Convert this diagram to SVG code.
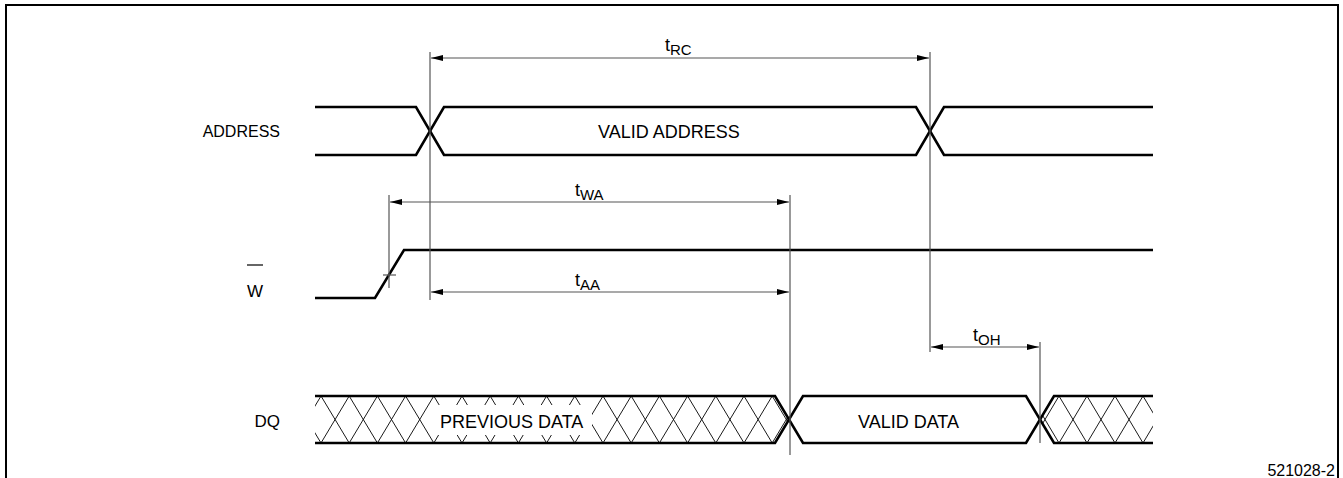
<svg xmlns="http://www.w3.org/2000/svg" width="1343" height="478" viewBox="0 0 1343 478">
<style>
.sig{fill:none;stroke:#000;stroke-width:2.6;stroke-linejoin:miter}
.tl{fill:none;stroke:#555;stroke-width:1.2}
.hx{fill:none;stroke:#000;stroke-width:0.9}
.lb{font-family:"Liberation Sans",Arial,sans-serif;font-size:18px;fill:#000}
.ll{font-family:"Liberation Sans",Arial,sans-serif;font-size:17px;fill:#000}
.sub{font-size:15px}
.sm{font-family:"Liberation Sans",Arial,sans-serif;font-size:16px;fill:#000}
</style>
<defs>
<marker id="ah" viewBox="0 0 12 6" refX="12" refY="3" markerWidth="12" markerHeight="6" markerUnits="userSpaceOnUse" orient="auto-start-reverse">
<path d="M0,0 L12,3 L0,6 Z" fill="#000"/>
</marker>
<clipPath id="c1"><polygon points="315,396 775,396 789,419.5 775,443 315,443"/></clipPath>
<clipPath id="c2"><polygon points="1040,419.5 1054,396 1153,396 1153,443 1054,443"/></clipPath>
</defs>
<rect width="1343" height="478" fill="#fff"/>
<path d="M6,478 V5 H1338 V478" fill="none" stroke="#000" stroke-width="2"/>

<g id="address">
<path class="sig" d="M315,107 H416 L444,155 H916 L944,107 H1153"/>
<path class="sig" d="M315,155 H416 L444,107 H916 L944,155 H1153"/>
<text class="ll" x="280" y="137" text-anchor="end" style="font-size:16px">ADDRESS</text>
<text class="lb" x="598" y="138">VALID ADDRESS</text>
</g>

<g id="w">
<path class="sig" d="M315,298 H375 L404,250 H1153"/>
<text class="ll" x="247" y="297">W</text>
<line x1="247" y1="265" x2="263" y2="265" stroke="#000" stroke-width="1.2"/>
</g>

<g id="dq">
<g clip-path="url(#c1)">
<path class="hx" d="M292.8,396 L321,443 M321,396 L292.8,443 M321,396 L349.2,443 M349.2,396 L321,443 M349.2,396 L377.4,443 M377.4,396 L349.2,443 M377.4,396 L405.6,443 M405.6,396 L377.4,443 M405.6,396 L433.8,443 M433.8,396 L405.6,443 M433.8,396 L462,443 M462,396 L433.8,443 M462,396 L490.2,443 M490.2,396 L462,443 M490.2,396 L518.4,443 M518.4,396 L490.2,443 M518.4,396 L546.6,443 M546.6,396 L518.4,443 M546.6,396 L574.8,443 M574.8,396 L546.6,443 M574.8,396 L603,443 M603,396 L574.8,443 M603,396 L631.2,443 M631.2,396 L603,443 M631.2,396 L659.4,443 M659.4,396 L631.2,443 M659.4,396 L687.6,443 M687.6,396 L659.4,443 M687.6,396 L715.8,443 M715.8,396 L687.6,443 M715.8,396 L744,443 M744,396 L715.8,443 M744,396 L772.2,443 M772.2,396 L744,443 M772.2,396 L800.4,443 M800.4,396 L772.2,443"/>
</g>
<rect x="436" y="405" width="156" height="30" fill="#fff"/>
<g clip-path="url(#c2)">
<path class="hx" d="M1031,396 L1059,443 M1059,396 L1031,443 M1059,396 L1087,443 M1087,396 L1059,443 M1087,396 L1115,443 M1115,396 L1087,443 M1115,396 L1143,443 M1143,396 L1115,443 M1143,396 L1171,443 M1171,396 L1143,443"/>
</g>
<path class="sig" d="M315,396 H775 L803,443 H1026 L1054,396 H1153"/>
<path class="sig" d="M315,443 H775 L803,396 H1026 L1054,443 H1153"/>
<text class="ll" x="280" y="427" text-anchor="end">DQ</text>
<text class="lb" x="440" y="428">PREVIOUS DATA</text>
<text class="lb" x="858" y="428">VALID DATA</text>
</g>

<g id="connectors">
<line class="tl" x1="430" y1="52" x2="430" y2="300"/>
<line class="tl" x1="930" y1="52" x2="930" y2="352"/>
<line class="tl" x1="389" y1="195" x2="389" y2="288"/>
<line class="tl" x1="790" y1="195" x2="790" y2="455"/>
<line class="tl" x1="1040" y1="342" x2="1040" y2="443"/>
<line class="tl" x1="383" y1="275" x2="396" y2="275"/>
<line class="tl" x1="431" y1="58" x2="929" y2="58" marker-start="url(#ah)" marker-end="url(#ah)"/>
<line class="tl" x1="390" y1="202" x2="789" y2="202" marker-start="url(#ah)" marker-end="url(#ah)"/>
<line class="tl" x1="431" y1="292" x2="789" y2="292" marker-start="url(#ah)" marker-end="url(#ah)"/>
<line class="tl" x1="931" y1="347" x2="1039" y2="347" marker-start="url(#ah)" marker-end="url(#ah)"/>
</g>

<g id="labels">
<text class="lb" x="665" y="51">t<tspan class="sub" dy="4">RC</tspan></text>
<text class="lb" x="575" y="196">t<tspan class="sub" dy="4">WA</tspan></text>
<text class="lb" x="575" y="286">t<tspan class="sub" dy="4">AA</tspan></text>
<text class="lb" x="973" y="341">t<tspan class="sub" dy="4">OH</tspan></text>
<text class="sm" x="1335" y="476" text-anchor="end">521028-2</text>
</g>
</svg>
